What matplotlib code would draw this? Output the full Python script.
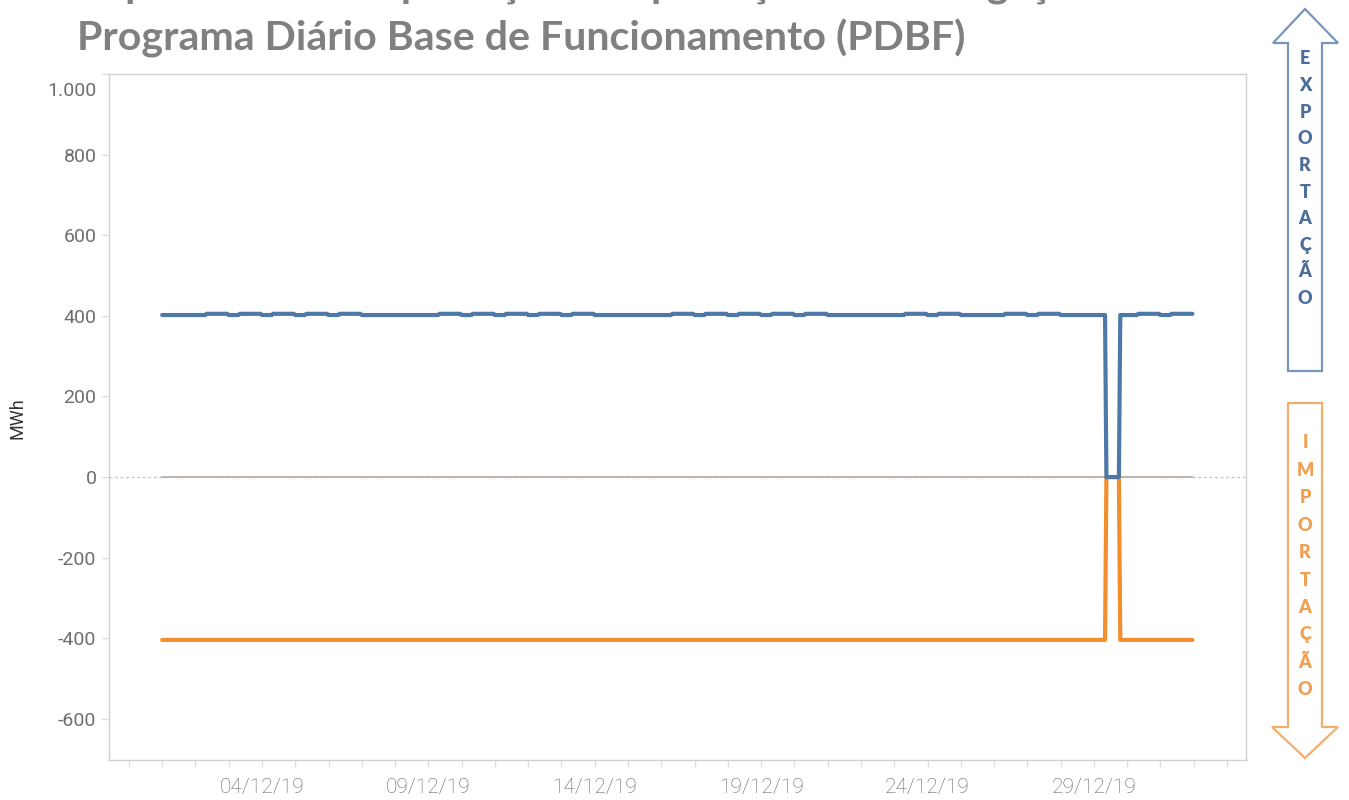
import matplotlib
matplotlib.use("Agg")
import matplotlib.pyplot as plt
import matplotlib.dates as mdates
import matplotlib.transforms as mtransforms
from matplotlib.patches import Polygon
from matplotlib.ticker import FuncFormatter
import numpy as np
import pandas as pd

# ---- data -------------------------------------------------------------
dias = pd.date_range("2019-12-01", "2019-12-31", freq="D")

# daily programme (MWh): off-peak hours (00-07h) and peak hours (08-23h)
exportacao_vazio = [402, 402, 402, 402, 402, 402, 402, 402, 402, 402, 402,
                    402, 402, 402, 402, 402, 402, 402, 402, 402, 402, 402,
                    402, 402, 402, 402, 402, 402, 402, 402, 402]
exportacao_ponta = [402, 405, 405, 405, 405, 405, 402, 402, 405, 405, 405,
                    405, 405, 402, 402, 405, 405, 405, 405, 405, 402, 402,
                    405, 405, 402, 405, 405, 402, 402, 405, 405]
importacao = [-404, -404, -404, -404, -404, -404, -404, -404, -404, -404, -404,
              -404, -404, -404, -404, -404, -404, -404, -404, -404, -404, -404,
              -404, -404, -404, -404, -404, -404, -404, -404, -404]
linha_base = [0, 0, 0, 0, 0, 0, 0, 0, 0, 0, 0, 0, 0, 0, 0, 0, 0, 0, 0, 0,
              0, 0, 0, 0, 0, 0, 0, 0, 0, 0, 0]
hora_inicio_ponta = 8

# unavailability of the interconnection
indisponivel_inicio = "2019-12-29 09:00"
indisponivel_fim = "2019-12-29 18:00"
valor_indisponivel = 0

y_ticks = [-600, -400, -200, 0, 200, 400, 600, 800, 1000]
titulo_1 = "Capacidade de Importação e Exportação na Interligação"
titulo_2 = "Programa Diário Base de Funcionamento (PDBF)"
seta_exp = "EXPORTAÇÃO"
seta_imp = "IMPORTAÇÃO"

# ---- hourly series ----------------------------------------------------
horas = pd.date_range("2019-12-01 00:00", "2019-12-31 23:00", freq="h")
dia_idx = (horas.normalize() - dias[0]).days
ponta = horas.hour >= hora_inicio_ponta
exp_h = np.where(ponta, np.array(exportacao_ponta)[dia_idx],
                 np.array(exportacao_vazio)[dia_idx]).astype(float)
imp_h = np.array(importacao, dtype=float)[dia_idx]
base_h = np.array(linha_base, dtype=float)[dia_idx]
corte = (horas >= pd.Timestamp(indisponivel_inicio)) & (horas <= pd.Timestamp(indisponivel_fim))
exp_h[corte] = valor_indisponivel
imp_h[corte] = valor_indisponivel

# ---- figure -----------------------------------------------------------
W, H = 1349, 800
fig = plt.figure(figsize=(W / 100, H / 100), dpi=100)
fig.patch.set_facecolor("white")


def fx(px):
    return px / W


def fy(py):
    return 1 - py / H


ax = fig.add_axes([fx(109), fy(760), fx(1246) - fx(109), fy(74) - fy(760)])

AZUL = "#4e79a7"
LARANJA = "#f28e2b"
CINZA_LINHA = "#bab0ac"

ax.axhline(0, color="#c4c4c4", lw=1.0, ls=(0, (2, 2)), zorder=1)
ax.plot(horas, base_h, color=CINZA_LINHA, lw=1.3, zorder=2)
ax.plot(horas, imp_h, color=LARANJA, lw=3.0, solid_capstyle="round",
        solid_joinstyle="round", zorder=3)
ax.plot(horas, exp_h, color=AZUL, lw=3.0, solid_capstyle="round",
        solid_joinstyle="round", zorder=4)

ax.set_xlim(pd.Timestamp("2019-11-29 09:40"), pd.Timestamp("2020-01-02 13:40"))
ax.set_ylim(-702, 1000)

for s in ax.spines.values():
    s.set_color("#d0d0d0")
    s.set_linewidth(1.0)

ax.set_yticks(y_ticks)
ax.yaxis.set_major_formatter(FuncFormatter(lambda v, p: f"{v:,.0f}".replace(",", ".")))
ax.tick_params(axis="y", which="major", length=6, width=1, color="#e0e0e0",
               labelcolor="#6e6e6e", labelsize=14, pad=3)
for lab in ax.get_yticklabels():
    lab.set_fontfamily(["Roboto", "DejaVu Sans"])
ytl = ax.get_yticklabels()
ytl[-1].set_transform(ytl[-1].get_transform() +
                      mtransforms.ScaledTranslation(0, -15 / 100, fig.dpi_scale_trans))

ax.xaxis.set_major_locator(mdates.DayLocator(bymonthday=[4, 9, 14, 19, 24, 29]))
ax.xaxis.set_minor_locator(mdates.DayLocator())
ax.xaxis.set_major_formatter(mdates.DateFormatter("%d/%m/%y"))
ax.tick_params(axis="x", which="both", length=5, width=1, color="#e0e0e0",
               labelcolor="#666666", labelsize=15, pad=8)
for lab in ax.get_xticklabels():
    lab.set_fontfamily(["Roboto", "DejaVu Sans"])
    lab.set_fontweight("light")

fig.text(fx(18), fy(418), "MWh", rotation=90, ha="center", va="center",
         fontsize=13, color="#333333", family=["Roboto", "DejaVu Sans"])

# ---- titles -----------------------------------------------------------
fig.text(fx(77), fy(-4), titulo_1, ha="left", va="baseline", fontsize=29.6,
         fontweight="bold", color="#808080", family=["Lato", "DejaVu Sans"])
fig.text(fx(77), fy(51), titulo_2, ha="left", va="baseline", fontsize=29.6,
         fontweight="bold", color="#808080", family=["Lato", "DejaVu Sans"])

# ---- direction arrows -------------------------------------------------
def seta(pts, cor):
    p = Polygon([(fx(x), fy(y)) for x, y in pts], closed=True,
                transform=fig.transFigure, facecolor="white",
                edgecolor=cor, lw=1.6, joinstyle="miter")
    fig.add_artist(p)


seta([(1305, 9), (1338, 43), (1322, 43), (1322, 371), (1288, 371),
      (1288, 43), (1273, 43)], "#7896bb")
seta([(1288, 403), (1322, 403), (1322, 727), (1338, 727), (1305, 758),
      (1272, 727), (1288, 727)], "#f4ae6c")

for i, ch in enumerate(seta_exp):
    fig.text(fx(1305), fy(59 + i * 26.6), ch, ha="center", va="center",
             fontsize=13, fontweight="heavy", color="#4d6e9b",
             family=["Lato", "DejaVu Sans"])
for i, ch in enumerate(seta_imp):
    fig.text(fx(1305), fy(443 + i * 27.4), ch, ha="center", va="center",
             fontsize=13, fontweight="heavy", color="#f0a050",
             family=["Lato", "DejaVu Sans"])

fig.savefig("out.png", dpi=100, facecolor="white")
